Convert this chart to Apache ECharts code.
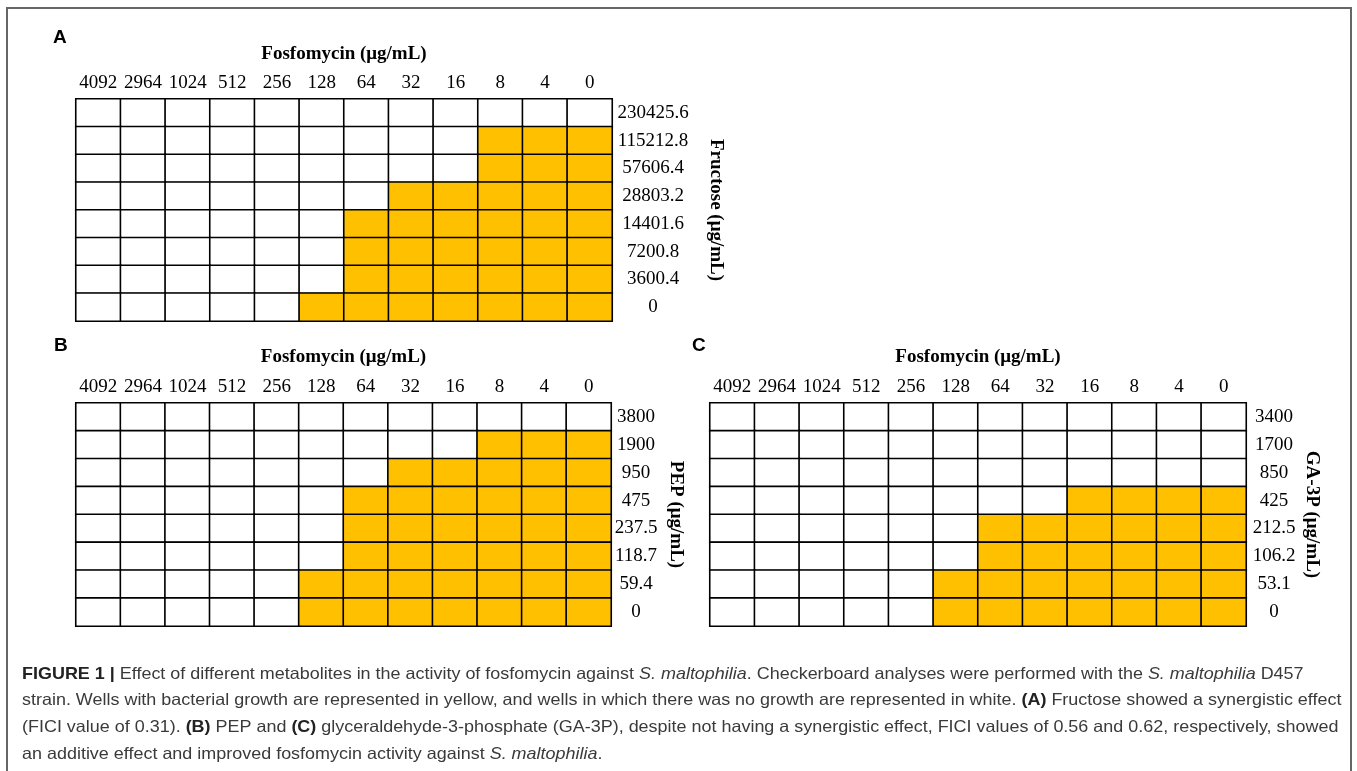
<!DOCTYPE html>
<html>
<head>
<meta charset="utf-8">
<script src="https://cdn.jsdelivr.net/npm/echarts@6/dist/echarts.min.js"></script>
<style>
html,body{margin:0;padding:0;background:#fff;}
#chart{width:1357px;height:771px;}
</style>
</head>
<body>
<div id="chart"></div>
<script>
// ---- data ----
const fosfomycinLabels = ['4092','2964','1024','512','256','128','64','32','16','8','4','0'];
const fructoseLabels = ['230425.6','115212.8','57606.4','28803.2','14401.6','7200.8','3600.4','0'];
const pepLabels = ['3800','1900','950','475','237.5','118.7','59.4','0'];
const ga3pLabels = ['3400','1700','850','425','212.5','106.2','53.1','0'];
// 1 = bacterial growth (yellow), 0 = no growth (white); rows top to bottom
const growthFructose = [
  [0,0,0,0,0,0,0,0,0,0,0,0],
  [0,0,0,0,0,0,0,0,0,1,1,1],
  [0,0,0,0,0,0,0,0,0,1,1,1],
  [0,0,0,0,0,0,0,1,1,1,1,1],
  [0,0,0,0,0,0,1,1,1,1,1,1],
  [0,0,0,0,0,0,1,1,1,1,1,1],
  [0,0,0,0,0,0,1,1,1,1,1,1],
  [0,0,0,0,0,1,1,1,1,1,1,1]
];
const growthPEP = [
  [0,0,0,0,0,0,0,0,0,0,0,0],
  [0,0,0,0,0,0,0,0,0,1,1,1],
  [0,0,0,0,0,0,0,1,1,1,1,1],
  [0,0,0,0,0,0,1,1,1,1,1,1],
  [0,0,0,0,0,0,1,1,1,1,1,1],
  [0,0,0,0,0,0,1,1,1,1,1,1],
  [0,0,0,0,0,1,1,1,1,1,1,1],
  [0,0,0,0,0,1,1,1,1,1,1,1]
];
const growthGA3P = [
  [0,0,0,0,0,0,0,0,0,0,0,0],
  [0,0,0,0,0,0,0,0,0,0,0,0],
  [0,0,0,0,0,0,0,0,0,0,0,0],
  [0,0,0,0,0,0,0,0,1,1,1,1],
  [0,0,0,0,0,0,1,1,1,1,1,1],
  [0,0,0,0,0,0,1,1,1,1,1,1],
  [0,0,0,0,0,1,1,1,1,1,1,1],
  [0,0,0,0,0,1,1,1,1,1,1,1]
];
const xTitle = 'Fosfomycin (μg/mL)';
const yTitles = ['Fructose (μg/mL)', 'PEP (μg/mL)', 'GA-3P (μg/mL)'];
const captionLines = [
  '{b|FIGURE 1 |} Effect of different metabolites in the activity of fosfomycin against {i|S. maltophilia}. Checkerboard analyses were performed with the {i|S. maltophilia} D457',
  'strain. Wells with bacterial growth are represented in yellow, and wells in which there was no growth are represented in white. {b|(A)} Fructose showed a synergistic effect',
  '(FICI value of 0.31). {b|(B)} PEP and {b|(C)} glyceraldehyde-3-phosphate (GA-3P), despite not having a synergistic effect, FICI values of 0.56 and 0.62, respectively, showed',
  'an additive effect and improved fosfomycin activity against {i|S. maltophilia}.'
];

// ---- layout ----
const SERIF = "'Liberation Serif','Times New Roman',serif";
const SANS = "'Liberation Sans',Arial,Helvetica,sans-serif";
const CAP_FS = 16.5;
const AX_FS = 19;
const panels = [
  {grid:{left:76, top:99, width:536, height:222}, ylab: fructoseLabels, growth: growthFructose, ymargin:41, ygap:94, xgap:35},
  {grid:{left:76, top:403, width:535, height:223}, ylab: pepLabels, growth: growthPEP, ymargin:25, ygap:55, xgap:36},
  {grid:{left:710, top:403, width:536, height:223}, ylab: ga3pLabels, growth: growthGA3P, ymargin:28, ygap:56, xgap:36}
];

function toCells(m){
  const out = [];
  m.forEach((row, r) => row.forEach((v, c) => out.push([c, r, v])));
  return out;
}

const option = {
  animation: false,
  backgroundColor: '#fff',
  grid: panels.map(p => Object.assign({containLabel:false}, p.grid)),
  xAxis: panels.map((p, i) => ({
    type:'category', gridIndex:i, data: fosfomycinLabels, position:'top',
    axisLine:{show:false}, axisTick:{show:false}, splitLine:{show:false}, splitArea:{show:false},
    axisLabel:{interval:0, margin:6, fontSize:AX_FS, fontFamily:SERIF, color:'#000'},
    name: xTitle, nameLocation:'middle', nameGap:p.xgap,
    nameTextStyle:{fontSize:AX_FS, fontWeight:'bold', fontFamily:SERIF, color:'#000'}
  })),
  yAxis: panels.map((p, i) => ({
    type:'category', gridIndex:i, data: p.ylab, position:'right', inverse:true,
    axisLine:{show:false}, axisTick:{show:false}, splitLine:{show:false}, splitArea:{show:false},
    axisLabel:{interval:0, margin:p.ymargin, align:'center', fontSize:AX_FS, fontFamily:SERIF, color:'#000'},
    name: yTitles[i], nameLocation:'middle', nameGap:p.ygap, nameRotate:-90,
    nameTextStyle:{fontSize:AX_FS, fontWeight:'bold', fontFamily:SERIF, color:'#000'}
  })),
  visualMap: {
    type:'piecewise', show:false, dimension:2, seriesIndex:[0,1,2],
    pieces:[{value:0, color:'#ffffff'}, {value:1, color:'#FFC000'}]
  },
  series: panels.map((p, i) => ({
    type:'heatmap', xAxisIndex:i, yAxisIndex:i, data: toCells(p.growth),
    itemStyle:{borderColor:'#000', borderWidth:1.6},
    emphasis:{disabled:true}, label:{show:false}
  })),
  graphic: [
    {type:'polyline', shape:{points:[[7,771],[7,8],[1351,8],[1351,771]]}, style:{stroke:'#666', lineWidth:2, fill:null}},
    {type:'text', left:53, top:28, style:{text:'A', font:"bold 19px "+SANS, fill:'#000'}},
    {type:'text', left:54, top:336, style:{text:'B', font:"bold 19px "+SANS, fill:'#000'}},
    {type:'text', left:692, top:336, style:{text:'C', font:"bold 19px "+SANS, fill:'#000'}}
  ].concat(captionLines.map((t, k) => ({
    type:'text', x:22, y:674 + k*26.7, scaleX:1.088,
    style:{
      text:t, fontFamily:SANS, fontSize:CAP_FS, fill:'#3a3a3a', verticalAlign:'middle',
      rich:{
        b:{fontWeight:'bold', fontFamily:SANS, fontSize:CAP_FS, fill:'#222'},
        i:{fontStyle:'italic', fontFamily:SANS, fontSize:CAP_FS, fill:'#3a3a3a'}
      }
    }
  })))
};

const chart = echarts.init(document.getElementById('chart'), null, {renderer:'canvas'});
chart.setOption(option);
</script>
</body>
</html>
